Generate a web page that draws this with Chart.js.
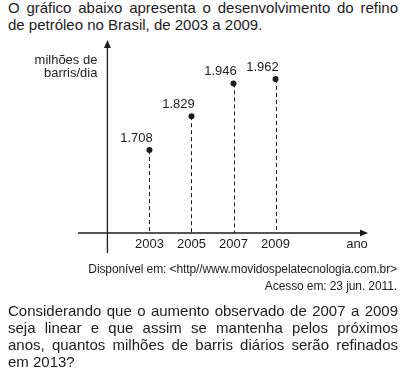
<!DOCTYPE html>
<html>
<head>
<meta charset="utf-8">
<script src="https://cdn.jsdelivr.net/npm/chart.js@4/dist/chart.umd.min.js"></script>
<style>
  body { margin: 0; width: 403px; height: 380px; background: #fff; position: relative; overflow: hidden;
         font-family: "Liberation Sans", Arial, sans-serif; color: #1c1c1c; }
  .para { position: absolute; left: 8px; width: 390px; font-size: 15px; line-height: 17px; }
  .para div { text-align: justify; text-align-last: justify; white-space: nowrap; }
  .para div.last { text-align-last: left; }
  #intro { top: -1px; }
  #question { top: 302px; }
  #source { position: absolute; right: 6px; top: 261px; font-size: 12px; line-height: 17px; text-align: right; letter-spacing: -0.1px; }
  #wrap { position: absolute; left: 0; top: 36px; width: 403px; height: 230px; }
</style>
</head>
<body>
<div class="para" id="intro">
  <div>O gráfico abaixo apresenta o desenvolvimento do refino</div>
  <div class="last">de petróleo no Brasil, de 2003 a 2009.</div>
</div>
<div id="wrap"><canvas id="refinoChart"></canvas></div>
<div id="source">Disponível em: &lt;http//www.movidospelatecnologia.com.br&gt;<br>Acesso em: 23 jun. 2011.</div>
<div class="para" id="question">
  <div>Considerando que o aumento observado de 2007 a 2009</div>
  <div>seja linear e que assim se mantenha pelos próximos</div>
  <div>anos, quantos milhões de barris diários serão refinados</div>
  <div class="last">em 2013?</div>
</div>
<script>
// dados do gráfico
const years = [2003, 2005, 2007, 2009];
const refino = [1.708, 1.829, 1.946, 1.962];
const valueLabels = ["1.708", "1.829", "1.946", "1.962"];
const xTicks = [2003, 2005, 2007, 2009];
const yTitle = ["milhões de", "barris/dia"];
const xTitle = "ano";

const ink = "#1c1c1c";
const font13 = "13px 'Liberation Sans', Arial, sans-serif";

// desenha os eixos com setas, as linhas tracejadas e os textos
const axesPlugin = {
  id: "axesPlugin",
  beforeDatasetsDraw(chart) {
    const { ctx, chartArea, scales } = chart;
    const x = scales.x;
    const y0 = chartArea.bottom;
    const yAxisX = x.getPixelForValue(2001);
    const meta = chart.getDatasetMeta(0);

    ctx.save();
    // linhas tracejadas
    ctx.strokeStyle = ink;
    ctx.lineWidth = 1;
    ctx.setLineDash([4, 3]);
    meta.data.forEach((pt) => {
      ctx.beginPath();
      ctx.moveTo(Math.round(pt.x) + 0.5, pt.y);
      ctx.lineTo(Math.round(pt.x) + 0.5, y0);
      ctx.stroke();
    });
    ctx.setLineDash([]);

    // eixos
    ctx.lineWidth = 1.3;
    ctx.beginPath();
    ctx.moveTo(chartArea.left, y0);
    ctx.lineTo(chartArea.right - 6, y0);
    ctx.moveTo(yAxisX, chartArea.top + 6);
    ctx.lineTo(yAxisX, y0 + 20);
    ctx.stroke();

    // setas
    ctx.fillStyle = ink;
    ctx.beginPath();
    ctx.moveTo(chartArea.right, y0);
    ctx.lineTo(chartArea.right - 8, y0 - 3.5);
    ctx.lineTo(chartArea.right - 8, y0 + 3.5);
    ctx.closePath();
    ctx.fill();
    ctx.beginPath();
    ctx.moveTo(yAxisX, chartArea.top);
    ctx.lineTo(yAxisX - 3.5, chartArea.top + 8);
    ctx.lineTo(yAxisX + 3.5, chartArea.top + 8);
    ctx.closePath();
    ctx.fill();
    ctx.restore();
  },
  afterDatasetsDraw(chart) {
    const { ctx, chartArea, scales } = chart;
    const yAxisX = scales.x.getPixelForValue(2001);
    const meta = chart.getDatasetMeta(0);

    ctx.save();
    ctx.fillStyle = ink;
    ctx.font = font13;
    ctx.textBaseline = "middle";

    // rótulos dos valores
    ctx.textAlign = "center";
    meta.data.forEach((pt, i) => {
      ctx.fillText(valueLabels[i], pt.x - 13, pt.y - 12);
    });

    // título do eixo y
    ctx.textAlign = "right";
    yTitle.forEach((line, i) => {
      ctx.fillText(line, yAxisX - 10, chartArea.top + 20 + i * 13);
    });

    // título do eixo x
    ctx.textAlign = "center";
    ctx.fillText(xTitle, chartArea.right - 11, chartArea.bottom + 11);
    ctx.restore();
  },
};

new Chart(document.getElementById("refinoChart"), {
  type: "scatter",
  data: {
    datasets: [
      {
        data: years.map((yr, i) => ({ x: yr, y: refino[i] })),
        pointRadius: 3,
        pointHoverRadius: 3,
        backgroundColor: ink,
        borderWidth: 0,
      },
    ],
  },
  options: {
    responsive: true,
    maintainAspectRatio: false,
    animation: false,
    events: [],
    layout: { padding: { left: 78, right: 35, top: 4, bottom: 3 } },
    plugins: { legend: { display: false }, tooltip: { enabled: false } },
    scales: {
      x: {
        type: "linear",
        min: 1999.6,
        max: 2013.4,
        grid: { display: false, drawTicks: false },
        border: { display: false },
        afterBuildTicks: (s) => { s.ticks = xTicks.map((v) => ({ value: v })); },
        afterFit: (s) => { s.height = 30; },
        ticks: {
          color: ink,
          padding: 4,
          autoSkip: false,
          maxRotation: 0,
          font: { family: "'Liberation Sans', Arial, sans-serif", size: 13 },
          callback: (v) => String(v),
        },
      },
      y: {
        display: false,
        min: 1.412,
        max: 2.101,
      },
    },
  },
  plugins: [axesPlugin],
});
</script>
</body>
</html>
